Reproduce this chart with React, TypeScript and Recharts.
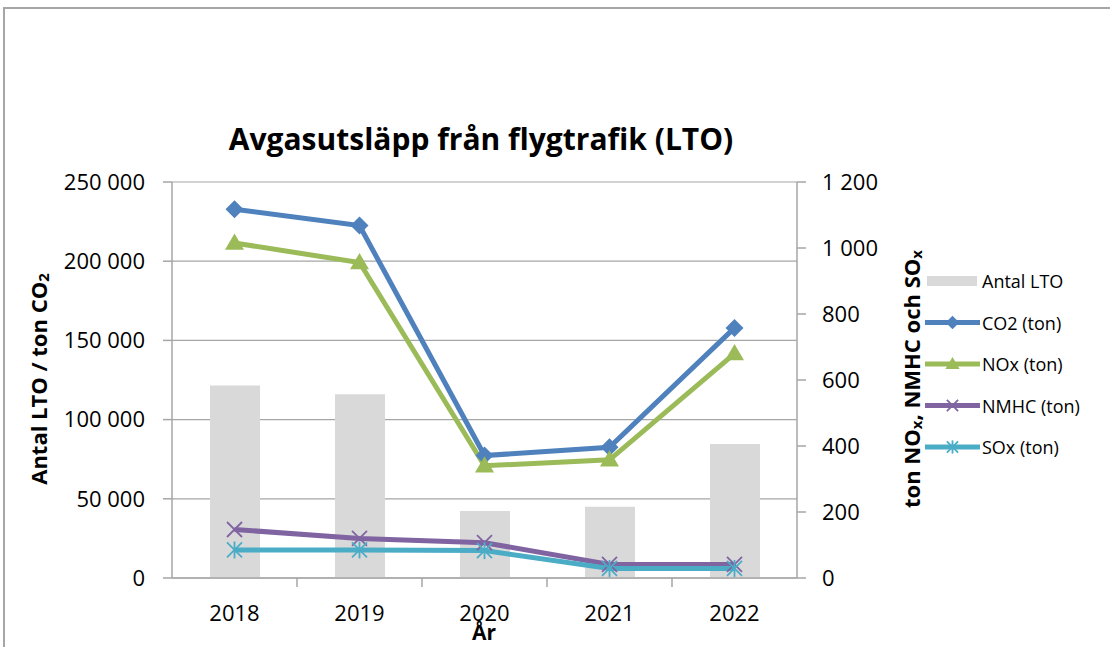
import React from 'react';
import { ComposedChart, Bar, Line, XAxis, YAxis, CartesianGrid, Legend } from 'recharts';

const years = ['2018', '2019', '2020', '2021', '2022'];
const antalLTO = [121600, 116000, 42300, 45000, 84600];
const co2Ton = [232800, 222500, 77300, 82500, 157900];
const noxTon = [1015, 956, 340, 358, 680];
const nmhcTon = [147, 120, 107, 41, 41];
const soxTon = [85, 85, 83, 29, 29];
const leftTicks = [0, 50000, 100000, 150000, 200000, 250000];
const rightTicks = [0, 200, 400, 600, 800, 1000, 1200];

const data = years.map((y, i) => ({
  year: y,
  lto: antalLTO[i],
  co2: co2Ton[i],
  nox: noxTon[i],
  nmhc: nmhcTon[i],
  sox: soxTon[i],
}));

const W = 1110;
const H = 647;
const MARGIN = { top: 182, right: 253, bottom: 39, left: 112 };
const Y_W = 60;
const X_H = 30;
const PLOT_LEFT = MARGIN.left + Y_W;
const PLOT_RIGHT = W - MARGIN.right - Y_W;
const BAND = (PLOT_RIGHT - PLOT_LEFT) / years.length;

const FONT = '"Open Sans", "Liberation Sans", sans-serif';
const AXIS = '#a6a6a6';

const C_BAR = '#d9d9d9';
const C_CO2 = '#4f81bd';
const C_NOX = '#9bbb59';
const C_NMHC = '#8064a2';
const C_SOX = '#4bacc6';

const fmt = (v: number) => String(v).replace(/\B(?=(\d{3})+(?!\d))/g, ' ');

const Marker = ({ kind, cx, cy, color, s = 1 }: any) => {
  if (cx == null || cy == null) return null;
  if (kind === 'diamond') {
    const r = 9 * s;
    return <path d={`M${cx},${cy - r} L${cx + r},${cy} L${cx},${cy + r} L${cx - r},${cy} Z`} fill={color} />;
  }
  if (kind === 'triangle') {
    const r = 9.5 * s;
    return <path d={`M${cx},${cy - r} L${cx + r},${cy + r * 0.7} L${cx - r},${cy + r * 0.7} Z`} fill={color} />;
  }
  if (kind === 'x') {
    const r = 7.5 * s;
    return (
      <g stroke={color} strokeWidth={1.8}>
        <line x1={cx - r} y1={cy - r} x2={cx + r} y2={cy + r} />
        <line x1={cx - r} y1={cy + r} x2={cx + r} y2={cy - r} />
      </g>
    );
  }
  if (kind === 'star') {
    const r = 7.5 * s;
    return (
      <g stroke={color} strokeWidth={1.8}>
        <line x1={cx - r} y1={cy - r} x2={cx + r} y2={cy + r} />
        <line x1={cx - r} y1={cy + r} x2={cx + r} y2={cy - r} />
        <line x1={cx} y1={cy - r - 1} x2={cx} y2={cy + r + 1} />
      </g>
    );
  }
  return null;
};

const dotFor = (kind: string, color: string) => (p: any) => (
  <Marker key={`${kind}-${p.index}`} kind={kind} cx={p.cx} cy={p.cy} color={color} />
);

const legendItems = [
  { name: 'Antal LTO', type: 'bar', color: C_BAR, kind: '' },
  { name: 'CO2 (ton)', type: 'line', color: C_CO2, kind: 'diamond' },
  { name: 'NOx (ton)', type: 'line', color: C_NOX, kind: 'triangle' },
  { name: 'NMHC (ton)', type: 'line', color: C_NMHC, kind: 'x' },
  { name: 'SOx (ton)', type: 'line', color: C_SOX, kind: 'star' },
];

const LegendContent = () => (
  <svg width={185} height={200} style={{ display: 'block', overflow: 'visible' }}>
    {legendItems.map((it, i) => {
      const cy = 19 + i * 41.5;
      return (
        <g key={it.name}>
          {it.type === 'bar' ? (
            <rect x={2} y={cy - 5} width={50} height={10} fill={it.color} />
          ) : (
            <g>
              <line x1={0} y1={cy} x2={55} y2={cy} stroke={it.color} strokeWidth={5} />
              <Marker kind={it.kind} cx={27.5} cy={cy} color={it.color} s={0.75} />
            </g>
          )}
          <text x={57} y={cy} dominantBaseline="central" fontSize={18} fontFamily={FONT} fill="#000">
            {it.name}
          </text>
        </g>
      );
    })}
  </svg>
);

const XTick = (props: any) => {
  const { x, y, payload, index } = props;
  return (
    <g>
      <text x={x} y={y + 43} textAnchor="middle" fontSize={22} fontFamily={FONT} fill="#000">
        {payload.value}
      </text>
      {index > 0 && <line x1={x - BAND / 2} y1={y} x2={x - BAND / 2} y2={y + 9} stroke={AXIS} strokeWidth={1.5} />}
    </g>
  );
};

export default function App() {
  return (
    <div style={{ position: 'absolute', left: 0, top: 0, width: W, height: H, overflow: 'hidden', background: '#fff' }}>
      <div
        style={{
          position: 'absolute',
          left: 3,
          top: 7,
          width: W + 40,
          height: H + 40,
          border: '2px solid #a6a6a6',
          boxSizing: 'border-box',
        }}
      />
      <div style={{ position: 'absolute', left: 0, top: 0 }}>
        <ComposedChart width={W} height={H} data={data} margin={MARGIN}>
          <CartesianGrid yAxisId="left" vertical={false} stroke={AXIS} strokeWidth={1.2} />
          <XAxis
            dataKey="year"
            height={X_H}
            axisLine={{ stroke: AXIS, strokeWidth: 1.5 }}
            tickLine={false}
            tickSize={0}
            tickMargin={0}
            tick={<XTick />}
            interval={0}
          />
          <YAxis
            yAxisId="left"
            orientation="left"
            width={Y_W}
            domain={[0, 250000]}
            ticks={leftTicks}
            tickFormatter={fmt}
            axisLine={{ stroke: AXIS, strokeWidth: 1.5 }}
            tickLine={{ stroke: AXIS, strokeWidth: 1.5 }}
            tickSize={9}
            tickMargin={18}
            tick={{ fontSize: 22, fontFamily: FONT, fill: '#000' }}
            interval={0}
          />
          <YAxis
            yAxisId="right"
            orientation="right"
            width={Y_W}
            domain={[0, 1200]}
            ticks={rightTicks}
            tickFormatter={fmt}
            axisLine={{ stroke: AXIS, strokeWidth: 1.5 }}
            tickLine={{ stroke: AXIS, strokeWidth: 1.5 }}
            tickSize={9}
            tickMargin={16}
            tick={{ fontSize: 22, fontFamily: FONT, fill: '#000' }}
            interval={0}
          />
          <Bar yAxisId="left" dataKey="lto" name="Antal LTO" fill={C_BAR} barSize={50} isAnimationActive={false} />
          <Line yAxisId="left" dataKey="co2" name="CO2 (ton)" stroke={C_CO2} strokeWidth={5} dot={dotFor('diamond', C_CO2)} activeDot={false} isAnimationActive={false} />
          <Line yAxisId="right" dataKey="nox" name="NOx (ton)" stroke={C_NOX} strokeWidth={5} dot={dotFor('triangle', C_NOX)} activeDot={false} isAnimationActive={false} />
          <Line yAxisId="right" dataKey="nmhc" name="NMHC (ton)" stroke={C_NMHC} strokeWidth={5} dot={dotFor('x', C_NMHC)} activeDot={false} isAnimationActive={false} />
          <Line yAxisId="right" dataKey="sox" name="SOx (ton)" stroke={C_SOX} strokeWidth={5} dot={dotFor('star', C_SOX)} activeDot={false} isAnimationActive={false} />
          <Legend
            layout="vertical"
            align="center"
            verticalAlign="middle"
            content={<LegendContent />}
            wrapperStyle={{ left: 925, top: 262, width: 185 }}
          />
        </ComposedChart>
      </div>
      <svg width={W} height={H} style={{ position: 'absolute', left: 0, top: 0, pointerEvents: 'none' }}>
        <text x={481} y={150} textAnchor="middle" fontSize={30} fontWeight={700} fontFamily={FONT} fill="#000">
          Avgasutsläpp från flygtrafik (LTO)
        </text>
        <text x={484} y={640} textAnchor="middle" fontSize={21} fontWeight={700} fontFamily={FONT} fill="#000">
          År
        </text>
        <text
          transform="translate(38,379) rotate(-90)"
          textAnchor="middle"
          dominantBaseline="central"
          fontSize={22}
          fontWeight={700}
          fontFamily={FONT}
          fill="#000"
        >
          Antal LTO / ton CO<tspan dy={5} fontSize={15}>2</tspan>
        </text>
        <text
          transform="translate(911,379) rotate(-90)"
          textAnchor="middle"
          dominantBaseline="central"
          fontSize={22}
          fontWeight={700}
          fontFamily={FONT}
          fill="#000"
        >
          ton NO<tspan dy={5} fontSize={15}>x</tspan>
          <tspan dy={-5}>, NMHC och SO</tspan>
          <tspan dy={5} fontSize={15}>x</tspan>
        </text>
      </svg>
    </div>
  );
}
